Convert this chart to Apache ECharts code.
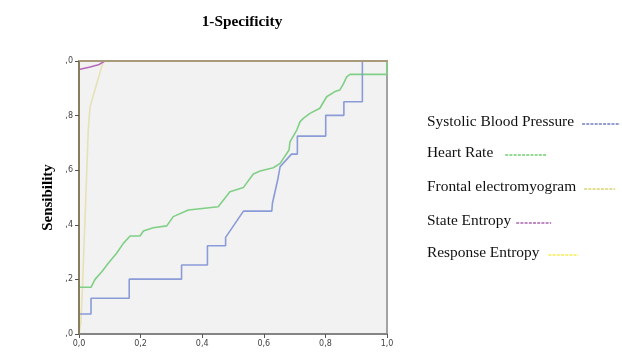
<!DOCTYPE html>
<html>
<head>
<meta charset="utf-8">
<script src="https://cdn.jsdelivr.net/npm/echarts@6/dist/echarts.min.js"></script>
<style>
  html, body { margin: 0; padding: 0; background: #ffffff; }
  #chart { width: 622px; height: 352px; }
</style>
</head>
<body>
<div id="chart"></div>
<script>
// ROC curves: [1-specificity, sensitivity]
const systolicBP = [
  [0, 0], [0, 0.073], [0.039, 0.073], [0.039, 0.131], [0.163, 0.131], [0.163, 0.201],
  [0.333, 0.201], [0.333, 0.253], [0.417, 0.253], [0.417, 0.323], [0.476, 0.323],
  [0.476, 0.354], [0.534, 0.45], [0.626, 0.45], [0.628, 0.479], [0.645, 0.564],
  [0.653, 0.613], [0.69, 0.659], [0.709, 0.659], [0.709, 0.725], [0.801, 0.725],
  [0.801, 0.801], [0.86, 0.801], [0.86, 0.851], [0.92, 0.851], [0.92, 1], [1, 1]
];
const heartRate = [
  [0, 0], [0, 0.171], [0.039, 0.171], [0.052, 0.2], [0.074, 0.228], [0.095, 0.259],
  [0.122, 0.296], [0.144, 0.332], [0.166, 0.359], [0.198, 0.359], [0.209, 0.377],
  [0.241, 0.389], [0.285, 0.396], [0.306, 0.43], [0.355, 0.454], [0.452, 0.466],
  [0.49, 0.521], [0.534, 0.537], [0.566, 0.586], [0.588, 0.597], [0.631, 0.609],
  [0.653, 0.625], [0.682, 0.674], [0.685, 0.704], [0.707, 0.747], [0.718, 0.778],
  [0.728, 0.79], [0.75, 0.808], [0.782, 0.827], [0.804, 0.869], [0.831, 0.888],
  [0.847, 0.894], [0.858, 0.915], [0.869, 0.942], [0.88, 0.951], [1, 0.951], [1, 1]
];
const frontalEMG = [
  [0, 0], [0.003, 0], [0.006, 0.04], [0.011, 0.161], [0.017, 0.344], [0.023, 0.527],
  [0.03, 0.747], [0.036, 0.833], [0.079, 1], [1, 1]
];
const stateEntropy = [
  [0, 0], [0, 0.969], [0.036, 0.978], [0.063, 0.986], [0.084, 1], [1, 1]
];
const responseEntropy = [
  [0, 0], [0, 1], [1, 1]
];

const seriesNames = ['Systolic Blood Pressure', 'Heart Rate', 'Frontal electromyogram', 'State Entropy', 'Response Entropy'];
const xTickLabels = ['0,0', '0,2', '0,4', '0,6', '0,8', '1,0'];
const yTickLabels = [',0', ',2', ',4', ',6', ',8', ',0'];

const curves = [systolicBP, heartRate, frontalEMG, stateEntropy, responseEntropy];
const curveColors = ['#8a9bd8', '#80cf86', '#e6e1b6', '#b868bc', '#ece7b0'];

// key on the right: label, then a short dashed stroke in the series colour
const keyColors = ['#2a3f9e', '#2fb52f', '#c4bf2a', '#7f1a86', '#f2e300'];
const keyCenters = [123, 154, 188, 222, 254];
const keyLengths = [38, 41, 31, 35, 30];
const keyGaps = [8, 12, 8, 5, 9];
const keyLeft = 427;
const keyFont = '15.4px "Liberation Serif"';

const chart = echarts.init(document.getElementById('chart'), null, { renderer: 'canvas' });

function measure(text) {
  const c = document.createElement('canvas').getContext('2d');
  c.font = keyFont;
  return c.measureText(text).width;
}

const keyGraphics = [];
seriesNames.forEach((name, i) => {
  const w = measure(name);
  keyGraphics.push({
    type: 'text', left: keyLeft, top: keyCenters[i] - 9,
    style: { text: name, font: keyFont, fill: '#111' }
  });
  const x0 = keyLeft + w + keyGaps[i];
  keyGraphics.push({
    type: 'line',
    shape: { x1: x0, y1: keyCenters[i] + 1, x2: x0 + keyLengths[i], y2: keyCenters[i] + 1 },
    style: { stroke: keyColors[i], lineWidth: 1.2, lineDash: [3, 1.2] }
  });
});

chart.setOption({
  animation: false,
  backgroundColor: '#ffffff',
  title: {
    text: '1-Specificity',
    left: 237,
    top: 10,
    textAlign: 'center',
    textStyle: { fontFamily: 'Liberation Serif', fontSize: 15.3, fontWeight: 'bold', color: '#000' }
  },
  legend: { show: false, data: seriesNames },
  graphic: keyGraphics,
  grid: {
    left: 79, right: 235, top: 61, bottom: 18,
    show: true,
    backgroundColor: '#f2f2f2',
    borderColor: '#a3a3a3',
    borderWidth: 2
  },
  xAxis: [{
    type: 'value', min: 0, max: 1, interval: 0.2,
    axisLine: { show: true, onZero: false, lineStyle: { color: '#7c7c7c', width: 1.5 } },
    axisTick: { show: true, length: 4, lineStyle: { color: '#555' } },
    splitLine: { show: false },
    axisLabel: {
      margin: 6, fontFamily: 'DejaVu Sans', fontSize: 8, color: '#444',
      formatter: v => xTickLabels[Math.round(v / 0.2)]
    }
  }, {
    type: 'value', min: 0, max: 1, position: 'top', z: 10,
    axisLine: { show: true, onZero: false, lineStyle: { color: '#a89a7a', width: 2 } },
    axisTick: { show: false }, axisLabel: { show: false }, splitLine: { show: false }
  }],
  yAxis: {
    type: 'value', min: 0, max: 1, interval: 0.2, z: 10,
    name: 'Sensibility',
    nameLocation: 'middle',
    nameGap: 23,
    nameRotate: 90,
    nameTextStyle: { fontFamily: 'Liberation Serif', fontSize: 15, fontWeight: 'bold', color: '#000' },
    axisLine: { show: true, onZero: false, lineStyle: { color: '#8a7d5f', width: 2 } },
    axisTick: { show: true, length: 4, lineStyle: { color: '#555' } },
    splitLine: { show: false },
    axisLabel: {
      margin: 6, fontFamily: 'DejaVu Sans', fontSize: 8, color: '#444',
      formatter: v => yTickLabels[Math.round(v / 0.2)]
    }
  },
  series: seriesNames.map((name, i) => ({
    name: name,
    type: 'line',
    data: curves[i],
    symbol: 'none',
    color: curveColors[i],
    lineStyle: { color: curveColors[i], width: 1.6 },
    z: [4, 3, 2, 5, 1][i]
  }))
});
</script>
</body>
</html>
